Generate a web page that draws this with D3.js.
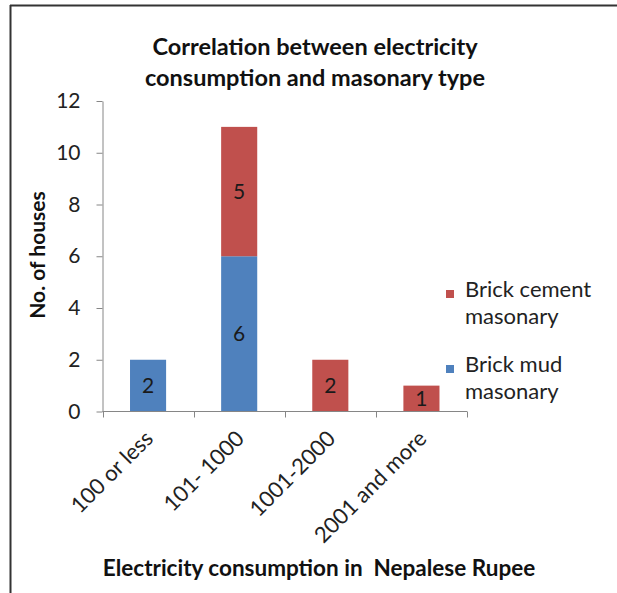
<!DOCTYPE html>
<html><head><meta charset="utf-8">
<script src="https://cdn.jsdelivr.net/npm/d3@7"></script>
<style>
html,body{margin:0;padding:0;background:#fff;}
svg{display:block;font-family:Lato,"Open Sans",sans-serif;}
</style></head>
<body>
<svg id="chart" width="617" height="593"></svg>
<script>
const categories = ["100 or less", "101- 1000", "1001-2000", "2001 and more"];
const seriesNames = ["Brick mud masonary", "Brick cement masonary"];
const brickMud = [2, 6, 0, 0];
const brickCement = [0, 5, 2, 1];
const yTicks = [0, 2, 4, 6, 8, 10, 12];
const colors = ["#4F81BD", "#C0504D"];
const titleLines = ["Correlation between electricity", "consumption and masonary type"];
const xTitle = "Electricity consumption in  Nepalese Rupee";
const yTitle = "No. of houses";
const legendLines = [["Brick cement", "masonary"], ["Brick mud", "masonary"]];

const svg = d3.select("#chart");

// frame
svg.append("line").attr("x1",10).attr("x2",617).attr("y1",5.5).attr("y2",5.5).attr("stroke","#333").attr("stroke-width",2);
svg.append("line").attr("x1",10.5).attr("x2",10.5).attr("y1",5).attr("y2",593).attr("stroke","#333").attr("stroke-width",2);

const x0 = 102.5, x1 = 467, yBase = 411.5, yTop = 101;
const padIn = 0.604;
const x = d3.scaleBand().domain(categories).range([x0, x1]).paddingInner(padIn).paddingOuter(padIn/2);
const y = d3.scaleLinear().domain([0, 12]).range([yBase, yTop]);

const data = categories.map((c,i)=>({cat:c, mud:brickMud[i], cement:brickCement[i]}));
const stack = d3.stack().keys(["mud","cement"])(data);

const g = svg.append("g");
stack.forEach((layer, si) => {
  layer.forEach((d, i) => {
    const v = d[1]-d[0];
    if (v <= 0) return;
    g.append("rect")
      .attr("x", x(categories[i]))
      .attr("width", x.bandwidth())
      .attr("y", y(d[1]))
      .attr("height", y(d[0]) - y(d[1]))
      .attr("fill", colors[si]);
    g.append("text")
      .attr("x", x(categories[i]) + x.bandwidth()/2)
      .attr("y", (y(d[0]) + y(d[1]))/2)
      .attr("dy", "0.36em")
      .attr("text-anchor", "middle")
      .attr("font-size", 21)
      .attr("fill", "#1a1a1a")
      .text(v);
  });
});

// y axis
const yAxis = d3.axisLeft(y).tickValues(yTicks).tickSize(6).tickSizeOuter(0).tickPadding(16);
const ya = svg.append("g").attr("transform", `translate(${x0},0)`).call(yAxis);
ya.select(".domain").attr("stroke","#868686");
ya.selectAll(".tick line").attr("stroke","#868686");
ya.selectAll(".tick text").attr("font-size",21).attr("fill","#222").attr("font-family","Lato, sans-serif");

// x axis
svg.append("line").attr("x1",x0).attr("x2",x1).attr("y1",yBase).attr("y2",yBase).attr("stroke","#868686");
const step = x.step();
d3.range(categories.length+1).forEach(i=>{
  const tx = Math.round(x0 + i*step) + 0.5;
  svg.append("line").attr("x1",tx).attr("x2",tx).attr("y1",yBase).attr("y2",yBase+6).attr("stroke","#868686");
});
categories.forEach(c=>{
  const cx = x(c) + x.bandwidth()/2;
  svg.append("text")
    .attr("transform", `translate(${cx+1},${yBase+23}) rotate(-45)`)
    .attr("text-anchor","end")
    .attr("dy","0.35em")
    .attr("font-size",22)
    .attr("fill","#222")
    .text(c);
});

// titles
titleLines.forEach((t,i)=>{
  svg.append("text").attr("x",315).attr("y",55+i*31).attr("text-anchor","middle")
    .attr("font-size",23.5).attr("font-weight","bold").attr("fill","#111").text(t);
});
svg.append("text").attr("x",319).attr("y",576).attr("text-anchor","middle")
  .attr("font-size",22.5).attr("font-weight","bold").attr("fill","#111").style("white-space","pre").text(xTitle);
svg.append("text").attr("transform","translate(45,255) rotate(-90)").attr("text-anchor","middle")
  .attr("font-size",21).attr("font-weight","bold").attr("fill","#111").text(yTitle);

// legend
const legColors = [colors[1], colors[0]];
legendLines.forEach((lines, i)=>{
  const by = 297 + i*75;
  svg.append("rect").attr("x",446).attr("y",by-7).attr("width",8).attr("height",8).attr("fill",legColors[i]);
  lines.forEach((l,j)=>{
    svg.append("text").attr("x",465).attr("y",by + j*27).attr("font-size",22).attr("fill","#222").text(l);
  });
});
</script>
</body></html>
